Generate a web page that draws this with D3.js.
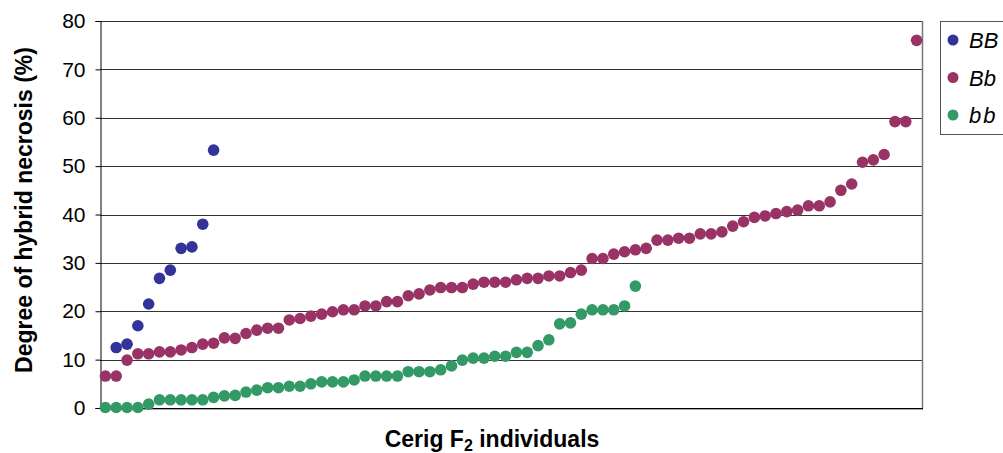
<!DOCTYPE html>
<html><head><meta charset="utf-8">
<script src="https://cdn.jsdelivr.net/npm/d3@7"></script>
<style>
body{margin:0;background:#fff;}
text{font-family:"Liberation Sans",Arial,sans-serif;fill:#000;}
</style></head>
<body>
<svg id="c" width="1003" height="453"></svg>
<script>
const yTicks = [0,10,20,30,40,50,60,70,80];
const seriesNames = ["BB","Bb","bb"];
const seriesColors = ["#333399","#993366","#339966"];
// BB starts at the second individual (first entry null)
const valuesBB = [null,12.5,13.2,17.0,21.5,26.8,28.5,33.0,33.3,38.0,53.3];
const valuesBb = [6.6,6.6,9.9,11.2,11.2,11.6,11.6,12.0,12.5,13.2,13.4,14.5,14.4,15.4,16.1,16.5,16.5,18.2,18.5,19.0,
  19.4,19.9,20.3,20.3,21.1,21.1,22.0,22.0,23.2,23.6,24.4,24.9,24.9,24.9,25.6,26.0,26.0,26.0,26.5,26.8,
  26.8,27.3,27.3,28.0,28.5,30.9,30.9,31.8,32.3,32.7,33.0,34.7,34.7,35.1,35.1,36.0,36.0,36.4,37.6,38.5,
  39.4,39.7,40.2,40.6,40.9,41.8,41.8,42.6,45.0,46.3,50.8,51.3,52.4,59.2,59.2,76.0];
const valuesbb = [0.1,0.1,0.1,0.1,0.8,1.7,1.7,1.7,1.7,1.7,2.2,2.5,2.6,3.3,3.7,4.2,4.2,4.5,4.5,5.0,
  5.4,5.4,5.4,5.8,6.6,6.6,6.6,6.6,7.5,7.5,7.5,7.9,8.7,9.9,10.3,10.3,10.7,10.7,11.5,11.5,
  12.9,14.1,17.4,17.6,19.4,20.3,20.3,20.3,21.1,25.2];
const nCategories = 76;

const svg = d3.select("#c");
const L=100, R=922, T=21, B=408;
const x = d3.scaleLinear().domain([0.5, nCategories+0.5]).range([L,R]);
const y = d3.scaleLinear().domain([0,80]).range([B,T]);

// gridlines
svg.append("g").selectAll("line").data(yTicks.filter(d=>d>0)).join("line")
  .attr("x1",L).attr("x2",R).attr("y1",d=>Math.round(y(d))+0.5).attr("y2",d=>Math.round(y(d))+0.5)
  .attr("stroke","#333").attr("stroke-width",1);
// right border
svg.append("line").attr("x1",R+0.5).attr("x2",R+0.5).attr("y1",T).attr("y2",B)
  .attr("stroke","#777").attr("stroke-width",1.5);
// bottom axis
svg.append("line").attr("x1",L).attr("x2",R+1).attr("y1",B+0.5).attr("y2",B+0.5).attr("stroke","#000");
svg.append("line").attr("x1",L).attr("x2",R+1).attr("y1",B+1.5).attr("y2",B+1.5).attr("stroke","#aaa");

// y axis
const yAxis = d3.axisLeft(y).tickValues(yTicks).tickSize(5).tickPadding(10).tickFormat(d3.format("d"));
const ga = svg.append("g").attr("transform",`translate(${L+0.5},0)`).call(yAxis);
ga.select(".domain").attr("stroke","#000");
ga.selectAll(".tick line").attr("stroke","#000");
ga.selectAll(".tick text").attr("font-size",21).attr("font-family","Liberation Sans, Arial, sans-serif").attr("fill","#000");

// points
const all = [valuesBB, valuesBb, valuesbb];
[2,1,0].forEach(si=>{
  svg.append("g").selectAll("circle")
    .data(all[si].map((v,i)=>({v,i:i+1})).filter(d=>d.v!==null)).join("circle")
    .attr("cx",d=>x(d.i)).attr("cy",d=>y(d.v)).attr("r",5.8)
    .attr("fill",seriesColors[si]);
});

// axis titles
svg.append("text").attr("transform","translate(32,210) rotate(-90)")
  .attr("text-anchor","middle").attr("font-weight","bold").attr("font-size",23)
  .text("Degree of hybrid necrosis (%)");
const xt = svg.append("text").attr("x",492).attr("y",447).attr("text-anchor","middle")
  .attr("font-weight","bold").attr("font-size",23);
xt.append("tspan").text("Cerig F");
xt.append("tspan").attr("font-size",16).attr("dy",4).text("2");
xt.append("tspan").attr("dy",-4).text(" individuals");

// legend
svg.append("rect").attr("x",940.5).attr("y",21.5).attr("width",70).attr("height",113)
  .attr("fill","#fff").attr("stroke","#555");
const lg = svg.append("g").selectAll("g").data(seriesNames).join("g")
  .attr("transform",(d,i)=>`translate(953,${40+i*37.5})`);
lg.append("circle").attr("r",5.5).attr("fill",(d,i)=>seriesColors[i]);
lg.append("text").attr("x",16).attr("y",8).attr("font-size",22).attr("font-style","italic")
  .attr("letter-spacing",(d,i)=>i===2?"2px":"0px").text(d=>d);
</script>
</body></html>
